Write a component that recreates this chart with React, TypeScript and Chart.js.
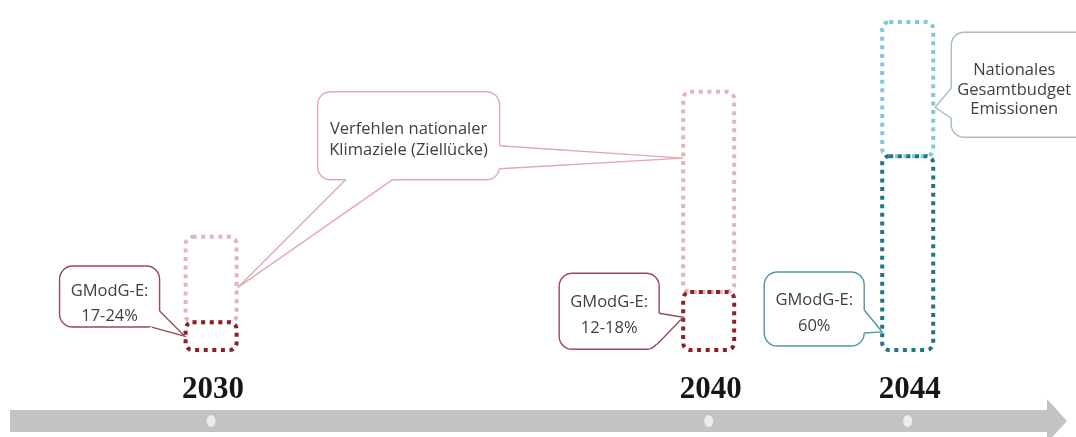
import React, { useEffect, useRef } from 'react';
import { Chart, registerables } from 'chart.js';

Chart.register(...registerables);

// ---- data ----
const years = [2030, 2040, 2044];
const yearLabels = ['2030', '2040', '2044'];
// GModG-E reduction share (inner, dark dotted segment), relative units (2044 budget = 100)
const gmodgShare = [8.5, 17.7, 59.1];
// full national target / budget bar height, relative units
const budgetTotal = [34.5, 78.7, 100];
const gmodgLabels = [
  ['GModG-E:', '17-24%'],
  ['GModG-E:', '12-18%'],
  ['GModG-E:', '60%'],
];
const gapLabel = ['Verfehlen nationaler', 'Klimaziele (Ziellücke)'];
const budgetLabel = ['Nationales', 'Gesamtbudget', 'Emissionen'];

// ---- styles ----
const lightColors = ['#e5b3b8', '#e5b3b8', '#85c7d9'];
const darkColors = ['#8b1f2b', '#8b1f2b', '#1f7587'];
const FONT = '16.5px "Open Sans", "Noto Sans", sans-serif';
const TEXT = '#3f3f3f';

type P = { x: number; y: number };

function drawCallout(
  ctx: CanvasRenderingContext2D,
  box: { x: number; y: number; w: number; h: number },
  tails: { p1: P; p2: P; tip: P }[],
  color: string,
  lines: string[],
  cx: number,
  ys: number[]
) {
  ctx.save();
  ctx.setLineDash([]);
  ctx.lineWidth = 1.4;
  ctx.strokeStyle = color;
  ctx.fillStyle = '#ffffff';
  ctx.beginPath();
  ctx.roundRect(box.x, box.y, box.w, box.h, 13);
  ctx.fill();
  ctx.stroke();
  const bcx = box.x + box.w / 2;
  const bcy = box.y + box.h / 2;
  const inward = (p: P) => {
    const dx = bcx - p.x;
    const dy = bcy - p.y;
    const d = Math.hypot(dx, dy) || 1;
    return { x: p.x + (dx / d) * 3, y: p.y + (dy / d) * 3 };
  };
  for (const t of tails) {
    const a = inward(t.p1);
    const b = inward(t.p2);
    ctx.beginPath();
    ctx.moveTo(a.x, a.y);
    ctx.lineTo(t.p1.x, t.p1.y);
    ctx.lineTo(t.tip.x, t.tip.y);
    ctx.lineTo(t.p2.x, t.p2.y);
    ctx.lineTo(b.x, b.y);
    ctx.closePath();
    ctx.fill();
    ctx.beginPath();
    ctx.moveTo(t.p1.x, t.p1.y);
    ctx.lineTo(t.tip.x, t.tip.y);
    ctx.lineTo(t.p2.x, t.p2.y);
    ctx.stroke();
  }
  ctx.fillStyle = TEXT;
  ctx.font = FONT;
  ctx.textAlign = 'center';
  ctx.textBaseline = 'middle';
  lines.forEach((l, i) => ctx.fillText(l, cx, ys[i]));
  ctx.restore();
}

const timelinePlugin = {
  id: 'timelineDecor',
  beforeDatasetsDraw(chart: any) {
    const ctx: CanvasRenderingContext2D = chart.ctx;
    const xs = chart.scales.x;
    const H = chart.height;
    const W = chart.width;
    ctx.save();
    // arrow
    const cy = H - 16;
    ctx.fillStyle = '#c3c3c3';
    ctx.beginPath();
    ctx.moveTo(10, cy - 11);
    ctx.lineTo(W - 29, cy - 11);
    ctx.lineTo(W - 29, cy - 22);
    ctx.lineTo(W - 9, cy);
    ctx.lineTo(W - 29, cy + 22);
    ctx.lineTo(W - 29, cy + 11);
    ctx.lineTo(10, cy + 11);
    ctx.closePath();
    ctx.fill();
    // markers + year labels
    years.forEach((yr, i) => {
      const px = xs.getPixelForValue(yr);
      ctx.fillStyle = '#ececec';
      ctx.beginPath();
      ctx.ellipse(px, cy, 4.5, 6, 0, 0, Math.PI * 2);
      ctx.fill();
      ctx.fillStyle = '#161616';
      ctx.font = 'bold 31px "Liberation Serif", "DejaVu Serif", serif';
      ctx.textAlign = 'center';
      ctx.textBaseline = 'alphabetic';
      ctx.fillText(yearLabels[i], px + 2, H - 39);
    });
    ctx.restore();
  },
  afterDatasetsDraw(chart: any) {
    const ctx: CanvasRenderingContext2D = chart.ctx;
    const ys = chart.scales.y;
    // dotted bars
    chart.data.datasets.forEach((ds: any, di: number) => {
      const meta = chart.getDatasetMeta(di);
      meta.data.forEach((el: any, i: number) => {
        const { x, y, base, width } = el.getProps(['x', 'y', 'base', 'width'], true);
        ctx.save();
        ctx.setLineDash([4, 4.6]);
        ctx.lineWidth = 4;
        ctx.strokeStyle = di === 0 ? lightColors[i] : darkColors[i];
        ctx.beginPath();
        ctx.roundRect(x - width / 2, Math.min(y, base), width, Math.abs(base - y), 7);
        ctx.stroke();
        ctx.restore();
      });
    });

    const el = (di: number, i: number) => chart.getDatasetMeta(di).data[i];
    const left = (di: number, i: number) => el(di, i).x - el(di, i).width / 2;
    const right = (di: number, i: number) => el(di, i).x + el(di, i).width / 2;

    // GModG-E 2030
    {
      const tip = { x: left(1, 0) - 1, y: ys.getPixelForValue(gmodgShare[0] / 2) };
      const box = { x: tip.x - 125, y: tip.y - 70, w: 100, h: 61 };
      drawCallout(
        ctx, box,
        [{ p1: { x: box.x + box.w, y: tip.y - 25 }, p2: { x: box.x + box.w - 8, y: box.y + box.h }, tip }],
        '#9a4a53', gmodgLabels[0], box.x + box.w / 2, [tip.y - 45, tip.y - 20]
      );
    }
    // GModG-E 2040
    {
      const tip = { x: left(1, 1), y: ys.getPixelForValue(10) };
      const box = { x: tip.x - 124, y: tip.y - 44, w: 100, h: 76 };
      drawCallout(
        ctx, box,
        [{ p1: { x: box.x + box.w, y: tip.y - 4 }, p2: { x: box.x + box.w - 2, y: tip.y + 27 }, tip }],
        '#9a4a53', gmodgLabels[1], box.x + box.w / 2, [tip.y - 15, tip.y + 11]
      );
    }
    // GModG-E 2044
    {
      const tip = { x: left(1, 2), y: ys.getPixelForValue(5.5) };
      const box = { x: tip.x - 118, y: tip.y - 60, w: 100, h: 74 };
      drawCallout(
        ctx, box,
        [{ p1: { x: box.x + box.w, y: tip.y - 22 }, p2: { x: box.x + box.w, y: tip.y + 1 }, tip }],
        '#4f9aa4', gmodgLabels[2], box.x + box.w / 2, [tip.y - 32, tip.y - 6]
      );
    }
    // Nationales Gesamtbudget
    {
      const tip = { x: right(0, 2) + 2, y: ys.getPixelForValue(74) };
      const box = { x: tip.x + 16, y: tip.y - 75, w: 140, h: 105 };
      drawCallout(
        ctx, box,
        [{ p1: { x: box.x, y: tip.y - 19 }, p2: { x: box.x, y: tip.y + 11 }, tip }],
        '#a5bccb', budgetLabel, tip.x + 79, [tip.y - 37, tip.y - 17, tip.y + 2]
      );
    }
    // Ziellücke
    {
      const tipA = { x: right(0, 0) + 1, y: ys.getPixelForValue(19) };
      const tipB = { x: left(0, 1), y: ys.getPixelForValue(58.5) };
      const box = { x: tipA.x + 80, y: tipA.y - 196, w: 182, h: 88 };
      drawCallout(
        ctx, box,
        [
          { p1: { x: box.x + 28, y: box.y + box.h }, p2: { x: box.x + 75, y: box.y + box.h }, tip: tipA },
          { p1: { x: box.x + box.w, y: box.y + 54 }, p2: { x: box.x + box.w, y: box.y + 77 }, tip: tipB },
        ],
        '#e3a9b0', gapLabel, box.x + box.w / 2, [box.y + 38, box.y + 59]
      );
    }
  },
};

export default function App() {
  const ref = useRef<HTMLCanvasElement | null>(null);
  useEffect(() => {
    document.body.style.margin = '0';
    const canvas = ref.current;
    if (!canvas) return;
    const chart = new Chart(canvas, {
      type: 'bar',
      data: {
        datasets: [
          {
            label: 'Ziellücke / Gesamtbudget',
            data: years.map((x, i) => ({ x, y: [gmodgShare[i], budgetTotal[i]] })) as any,
            backgroundColor: 'rgba(0,0,0,0)',
            borderWidth: 0,
            barThickness: 51,
            grouped: false,
          },
          {
            label: 'GModG-E',
            data: years.map((x, i) => ({ x, y: [0, gmodgShare[i]] })) as any,
            backgroundColor: 'rgba(0,0,0,0)',
            borderWidth: 0,
            barThickness: 51,
            grouped: false,
          },
        ],
      },
      options: {
        animation: false,
        responsive: false,
        maintainAspectRatio: false,
        events: [],
        layout: { padding: 0 },
        plugins: { legend: { display: false }, tooltip: { enabled: false } },
        scales: {
          x: { type: 'linear', min: 2025.758, max: 2047.382, offset: false, display: false },
          y: { type: 'linear', min: -26.52, max: 106.71, display: false },
        },
      },
      plugins: [timelinePlugin],
    });
    return () => chart.destroy();
  }, []);
  return (
    <div style={{ width: 1076, height: 437, background: '#ffffff' }}>
      <canvas ref={ref} width={1076} height={437} style={{ display: 'block' }} />
    </div>
  );
}
